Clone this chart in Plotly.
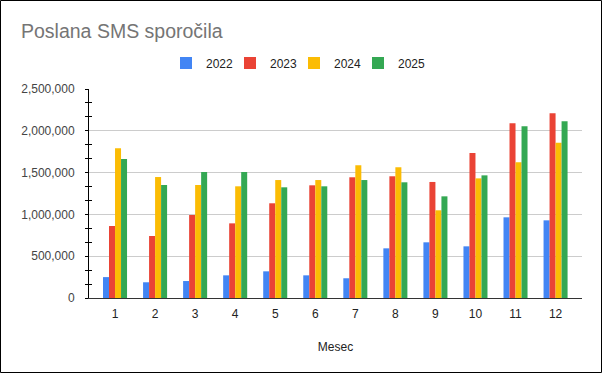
import plotly.graph_objects as go

months = list(range(1, 13))
month_labels = [str(m) for m in months]
years = ["2022", "2023", "2024", "2025"]
v2022 = [250000, 188000, 203000, 271000, 319000, 271000, 236000, 594000, 666000, 618000, 965000, 929000]
v2023 = [861000, 742000, 993000, 893000, 1133000, 1348000, 1444000, 1456000, 1388000, 1734000, 2089000, 2209000]
v2024 = [1790000, 1447000, 1352000, 1336000, 1411000, 1411000, 1587000, 1563000, 1049000, 1431000, 1623000, 1858000]
v2025 = [1663000, 1352000, 1507000, 1507000, 1324000, 1336000, 1411000, 1384000, 1216000, 1467000, 2053000, 2113000]
series = [v2022, v2023, v2024, v2025]
colors = ["#4285F4", "#EA4335", "#FBBC04", "#34A853"]
y_ticks = [0, 500000, 1000000, 1500000, 2000000, 2500000]

W, H = 602, 373
ML, MR, MT, MB = 89, 20, 89, 75
PW, PH = W - ML - MR, H - MT - MB

fig = go.Figure()
for name, vals, col in zip(years, series, colors):
    fig.add_trace(go.Bar(x=months, y=vals, name=name, marker_color=col,
                         marker_line_width=0))
# helper trace for overlay axis (inside halves of minor ticks)
fig.add_trace(go.Scatter(x=[months[0]], y=[0], yaxis="y2", showlegend=False,
                         mode="markers", marker_opacity=0, hoverinfo="skip"))

font = "Liberation Sans, Arial, sans-serif"
fig.update_layout(
    width=W, height=H,
    margin=dict(l=ML, r=MR, t=MT, b=MB, autoexpand=False),
    paper_bgcolor="white", plot_bgcolor="white",
    font=dict(family=font, size=12, color="#444"),
    barmode="group", bargap=0.4, bargroupgap=0,
    title=dict(text="Poslana SMS sporočila", x=21 / W, xanchor="left",
               xref="container", yref="container", y=1 - 31 / H, yanchor="middle",
               font=dict(size=19.5, color="#757575", family=font)),
    legend=dict(orientation="h", xref="paper", yref="paper",
                x=(294 - ML) / PW, xanchor="center", y=(MT + PH - 63) / PH, yanchor="middle",
                font=dict(size=12, color="#222", family=font),
                itemwidth=30, entrywidth=19, entrywidthmode="pixels", traceorder="normal"),
    xaxis=dict(range=[0.35, 12.66], tickvals=months, ticktext=month_labels,
               showgrid=False, zeroline=False, showline=True, linecolor="#333",
               linewidth=1, ticks="", ticklabelstandoff=5,
               tickfont=dict(size=12, color="#222"),
               title=dict(text="Mesec", font=dict(size=12, color="#222"), standoff=22)),
    yaxis=dict(range=[0, 2500000], tickvals=y_ticks, tickformat=",d",
               showgrid=True, gridcolor="#cccccc", gridwidth=1, zeroline=False,
               showline=True, linecolor="black", linewidth=1, ticks="",
               ticklabelstandoff=11, tickfont=dict(size=12, color="#444"),
               minor=dict(ticks="outside", dtick=500000 / 3, tick0=0, ticklen=3,
                          tickcolor="black", tickwidth=1, showgrid=False)),
    yaxis2=dict(overlaying="y", matches="y", side="left", showgrid=False,
                zeroline=False, showticklabels=False, showline=False, ticks="",
                minor=dict(ticks="inside", dtick=500000 / 3, tick0=0, ticklen=3,
                           tickcolor="black", tickwidth=1, showgrid=False)),
    shapes=[dict(type="rect", xref="paper", yref="paper",
                 x0=(0.5 - ML) / PW, x1=(W - 0.5 - ML) / PW,
                 y0=(MT + PH - (H - 0.5)) / PH, y1=(MT + PH - 0.5) / PH,
                 line=dict(color="black", width=1), fillcolor="rgba(0,0,0,0)",
                 layer="above")],
)

post = (
    "document.body.style.margin='0';document.body.style.overflow='hidden';"
    "document.querySelectorAll('.legend [clip-path], .legend').forEach(function(e){"
    "e.removeAttribute('clip-path');});"
)
fig.write_html("out.html", config={"displayModeBar": False}, post_script=post)
